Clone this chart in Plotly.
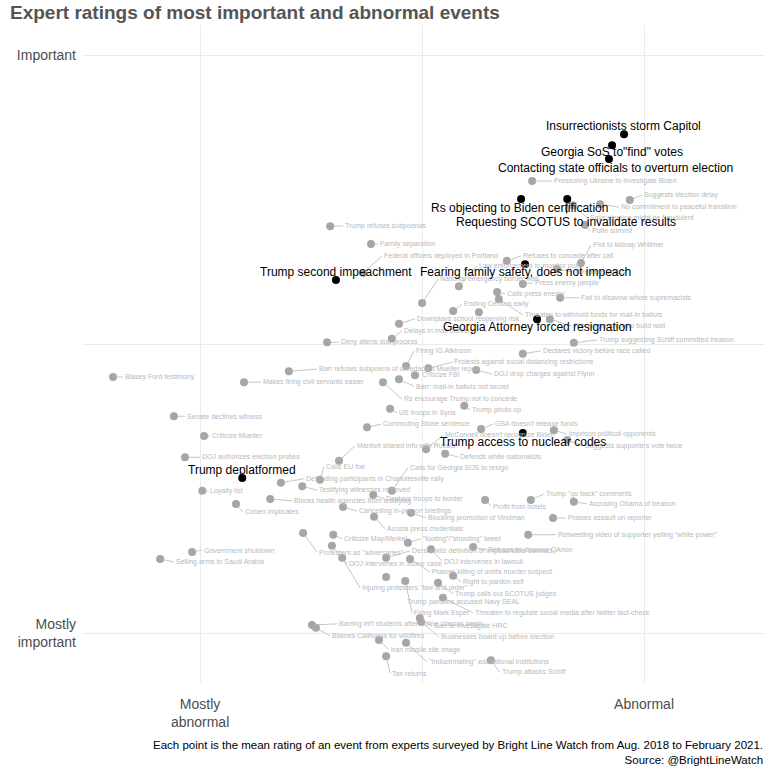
import plotly.graph_objects as go

# mean ratings: abnormality (x) and importance (y); 4 = "mostly", 5 = fully
highlight_events = ["Insurrectionists storm Capitol", 'Georgia SoS to"find" votes',
                    "Contacting state officials to overturn election", "Rs objecting to Biden certification",
                    "Requesting SCOTUS to invalidate results", "Trump second impeachment",
                    "Fearing family safety, does not impeach", "Georgia Attorney forced resignation",
                    "Trump access to nuclear codes", "Trump deplatformed"]
highlight_abnormal = [4.955, 4.928, 4.921, 4.723, 4.827, 4.306, 4.732, 4.759, 4.727, 4.095]
highlight_important = [4.863, 4.844, 4.820, 4.751, 4.751, 4.611, 4.638, 4.543, 4.346, 4.268]

events = ["Pressuring Ukraine to investigate Biden", "Suggests election delay",
          "No commitment to peaceful transition", "Says election might be fraudulent", "Putin summit",
          "Plot to kidnap Whitmer", "Refuses to concede after call", "Threatens critics",
          "Law enforcement to monitor polls", "National emergency border wall", "Press enemy people",
          "Calls press enemy", "Fail to disavow whote supremacists",
          "Threaten to withhold funds for mail-in ballots", "Ending Census early", "",
          "Downplays school reopening risk", "Delays in mail delivery", "Pardon people who build wall",
          "Trump suggesting Schiff committed treason", "Declares victory before race called",
          "Trump refuses subpoenas", "Family separation", "Federal officers deployed in Portland",
          "Deny aliens due process", "Firing IG Atkinson", "Barr refuses subpoena of unredacted Mueller report",
          "Protests against social distancing restrictions", "Criticize FBI", "DOJ drop charges against Flynn",
          "Makes firing civil servants easier", "Barr: mail-in ballots not secret",
          "Rs encourage Trump not to concede", "Trump photo op", "US troops in Syria", "Blasey Ford testimony",
          "Senate declines witness", "Criticize Mueller", "DOJ authorizes election probes", "Loyalty list",
          "Cohen implicates", "Government shutdown", "Selling arms to Saudi Arabia",
          "Defending participants in Charlottesville rally", "Calls EU foe", "Manfort shared info with Russia",
          "Testifying witnesses removed", "Blocks health agencies from testifying",
          "Cancelling in-person briefings", 'Protesters as "adversaries"', "Criticize May/Merkel",
          "DOJ intervenes in Stone case", 'Injuring protesters "law and order"', "Commuting Stone sentence",
          "GSA doesn't release funds", "McConnell doesn't recognize Biden", "Imprison political opponents",
          "Suggests supporters vote twice", "Defends white nationalists", "Calls for Georgia SOS to resign",
          "Deploys troops to border", "Blocking promotion of Vindman", "Acosta press credentials",
          "Profit from hotels", 'Trump "go back" comments', "Accusing Obama of treason",
          "Praises assault on reporter", 'Retweeting video of supporter yelling "white power"',
          '"looting"/"shooting" tweet', "Dershowitz definition of impeachable conduct",
          "DOJ intervenes in lawsuit", "Refuses to disavow QAnon", "Praises killing of antifa murder suspect",
          "Right to pardon self", "Trump calls out SCOTUS judges", "Trump pardons accused Navy SEAL",
          "Firing Mark Esper", "Threaten to regulate social media after twitter fact-check",
          "Barr to investigate HRC", "Businesses board up before election",
          "Barring int'l students after online classes begin", "Blames California for wildfires",
          "Iran missile site image", '"Indoctrinating" educational institutions', "Tax returns",
          "Trump attacks Schiff"]
abnormal = [4.748, 4.968, 4.901, 4.840, 4.867, 4.858, 4.691, 4.804, 4.583, 4.500, 4.727, 4.669, 4.811,
            4.673, 4.570, 4.628, 4.448, 4.432, 4.788, 4.842, 4.727, 4.293, 4.385, 4.367, 4.286, 4.464,
            4.200, 4.514, 4.484, 4.622, 4.099, 4.448, 4.412, 4.595, 4.428, 3.804, 3.941, 4.009, 3.966,
            4.005, 4.081, 3.982, 3.910, 4.182, 4.270, 4.313, 4.230, 4.158, 4.322, 4.232, 4.300, 4.297,
            4.320, 4.376, 4.633, 4.509, 4.797, 4.827, 4.552, 4.432, 4.390, 4.475, 4.392, 4.642, 4.745,
            4.842, 4.795, 4.739, 4.468, 4.419, 4.520, 4.615, 4.473, 4.570, 4.536, 4.419, 4.462, 4.547,
            4.495, 4.498, 4.252, 4.261, 4.403, 4.464, 4.419, 4.655]
important = [4.782, 4.749, 4.742, 4.740, 4.706, 4.640, 4.644, 4.630, 4.600, 4.571, 4.604, 4.590, 4.580,
             4.578, 4.557, 4.555, 4.535, 4.509, 4.543, 4.502, 4.483, 4.704, 4.673, 4.623, 4.503, 4.462,
             4.453, 4.458, 4.446, 4.455, 4.434, 4.439, 4.434, 4.393, 4.388, 4.443, 4.375, 4.341, 4.304,
             4.246, 4.223, 4.140, 4.128, 4.260, 4.265, 4.298, 4.254, 4.232, 4.218, 4.173, 4.170, 4.151,
             4.130, 4.356, 4.353, 4.318, 4.351, 4.334, 4.310, 4.246, 4.239, 4.208, 4.201, 4.230, 4.230,
             4.227, 4.199, 4.170, 4.156, 4.130, 4.145, 4.149, 4.128, 4.099, 4.087, 4.097, 4.090, 4.061,
             4.026, 4.019, 4.014, 4.009, 3.988, 3.983, 3.960, 3.953]

# label placement (pixel offsets from the point, like ggrepel output)
gray_nudge = [(20, 0), (12, -5), (19, 3), (15, 13), (5, 6), (10, -18), (14, -5), (15, 3), (18, -20),
              (16, -24), (10, -1), (8, 2), (19, 0), (24, 16), (9, -7), None, (16, -5), (10, -8), (22, 7),
              (23, -3), (18, -3), (13, 0), (7, 0), (19, -17), (12, 0), (8, -15), (28, -2), (24, -6), (5, -1),
              (16, 4), (17, 0), (15, 7), (19, 17), (6, 4), (7, 4), (10, 0), (11, 0), (6, 0), (15, 0), (6, 0),
              (7, 8), (10, -2), (14, 3), (23, -4), (4, -13), (16, -15), (15, 4), (22, 2), (14, 4), (14, 19),
              (9, 4), (15, 18), (18, 30), (14, -3), (12, -5), (17, -14), (13, 4), (16, 6), (13, 3), (16, -23),
              (11, 4), (15, 5), (11, 12), (6, 6), (13, -6), (13, 2), (13, 0), (28, 0), (13, -4), (24, -7),
              (11, 12), (13, 3), (20, 13), (8, 6), (15, 11), (19, 25), (7, 32), (30, 15), (12, 8), (18, 15),
              (25, -1), (14, 8), (10, 10), (21, 19), (4, 17), (9, 12)]
black_nudge = [(-1, -8), (0, 7), (7, 9), (-2, 9), (-1, 23), (0, -8), (0, 8), (0, 8), (0, 9), (0, -8)]

GRAY_TXT = "#b8b8b8"
FONT = "Liberation Sans, Arial, sans-serif"

fig = go.Figure()
fig.add_trace(go.Scatter(x=abnormal, y=important, mode="markers", hoverinfo="text", text=events,
                         marker=dict(size=8, color="#a6a6a6"), showlegend=False))
fig.add_trace(go.Scatter(x=highlight_abnormal, y=highlight_important, mode="markers", hoverinfo="text",
                         text=highlight_events, marker=dict(size=8, color="black"), showlegend=False))

anns = []
for name, xv, yv, nd in zip(events, abnormal, important, gray_nudge):
    if not name or nd is None:
        continue
    anns.append(dict(x=xv, y=yv, text=name, showarrow=True, ax=nd[0], ay=nd[1], axref="pixel",
                     xanchor="left", yanchor="middle", arrowhead=0, arrowwidth=0.8,
                     arrowcolor=GRAY_TXT, standoff=3, font=dict(size=7, color=GRAY_TXT, family=FONT)))
for name, xv, yv, nd in zip(highlight_events, highlight_abnormal, highlight_important, black_nudge):
    seg = "black" if name.startswith("Requesting") else "rgba(0,0,0,0)"
    anns.append(dict(x=xv, y=yv, text=name, showarrow=True, ax=nd[0], ay=nd[1],
                     xanchor="center", yanchor="middle", arrowhead=0, arrowwidth=1,
                     arrowcolor=seg, font=dict(size=12, color="black", family=FONT)))

anns.append(dict(xref="paper", yref="paper", x=1, y=0, xanchor="right", yanchor="top", yshift=-54,
                 showarrow=False, align="right",
                 text="Each point is the mean rating of an event from experts surveyed by Bright Line Watch "
                      "from Aug. 2018 to February 2021.<br>Source: @BrightLineWatch",
                 font=dict(size=11.5, color="black", family=FONT)))

fig.update_layout(
    width=768, height=768,
    margin=dict(l=82, r=3, t=25, b=85),
    plot_bgcolor="white", paper_bgcolor="white",
    font=dict(family=FONT),
    title=dict(text="<b>Expert ratings of most important and abnormal events</b>",
               x=10 / 768, xref="container", xanchor="left", y=1 - 12 / 768, yref="container",
               yanchor="middle", font=dict(size=19, color="#555555", family=FONT)),
    annotations=anns,
)
fig.update_xaxes(range=[3.734, 5.2725], tickvals=[4, 4.5, 5], ticktext=["Mostly<br>abnormal", "", "Abnormal"],
                 showgrid=True, gridcolor="#ebebeb", gridwidth=1, zeroline=False, showline=False,
                 ticks="", tickfont=dict(size=14, color="#4d4d4d"), ticklabelstandoff=11)
fig.update_yaxes(range=[3.9135, 5.052], tickvals=[4, 4.5, 5], ticktext=["Mostly<br>important", "", "Important"],
                 showgrid=True, gridcolor="#ebebeb", gridwidth=1, zeroline=False, showline=False,
                 ticks="", tickfont=dict(size=14, color="#4d4d4d"), ticklabelstandoff=5)

# drop the default page margin so the 768px figure fills the window exactly
fig.write_html("out.html", config={"displayModeBar": False},
               post_script="document.body.style.margin='0';")
